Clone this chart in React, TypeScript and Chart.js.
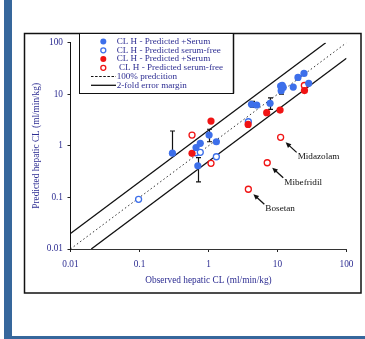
import React, { useEffect, useRef } from "react";
import { Chart, registerables } from "chart.js";

Chart.register(...registerables);

// ---------- data ----------
const xTickValues = [0.01, 0.1, 1, 10, 100];
const xTickLabels = ["0.01", "0.1", "1", "10", "100"];
const yTickValues = [0.01, 0.1, 1, 10, 100];
const yTickLabels = ["0.01", "0.1", "1", "10", "100"];

const xTitle = "Observed hepatic CL (ml/min/kg)";
const yTitle = "Predicted hepatic CL (ml/min/kg)";

// blue, predicted with serum
const blueSerumX = [0.3, 0.66, 0.76, 0.7, 1.02, 1.3, 4.2, 5.0, 7.8, 11.1, 11.7, 12.1, 11.3, 16.9, 19.8, 24.2, 28.3];
const blueSerumY = [0.72, 0.93, 1.12, 0.41, 1.62, 1.2, 6.4, 6.2, 6.7, 14.4, 14.9, 13.6, 11.7, 13.8, 21.2, 25.4, 16.3];
const blueErrLow: (number | null)[] = [null, null, null, 0.2, 1.2, null, 5.6, null, 5.1, null, null, null, 10.1, null, null, null, null];
const blueErrHigh: (number | null)[] = [1.94, null, null, 0.59, 2.1, null, 7.3, null, 8.5, null, null, null, null, null, null, null, null];

// blue, predicted serum-free
const blueFreeX = [0.097, 0.66, 0.76, 1.3, 3.78];
const blueFreeY = [0.092, 0.735, 0.75, 0.615, 2.93];

// red, predicted with serum
const redSerumX = [0.577, 1.087, 3.75, 6.97, 10.9, 24.6];
const redSerumY = [0.716, 3.02, 2.6, 4.4, 4.94, 11.8];

// red, predicted serum-free
const redFreeX = [0.577, 1.087, 24.5, 11.1, 7.1, 3.78];
const redFreeY = [1.62, 0.458, 14.8, 1.46, 0.47, 0.144];

// reference lines
const identityX = [0.01, 100];
const identityY = [0.01, 100];
const upperX = [0.01, 50];
const upperY = [0.02, 100];
const lowerX = [0.02, 100];
const lowerY = [0.01, 50];

const legendLabels = [
  "CL H - Predicted +Serum",
  "CL H - Predicted serum-free",
  "CL H - Predicted +Serum",
  " CL H - Predicted serum-free",
  "100% predcition",
  "2-fold error margin",
];

const annotationNames = ["Midazolam", "Mibefridil", "Bosetan"];
const annotationIndex = [3, 4, 5]; // indices into red serum-free series

// ---------- styles ----------
const BLUE = "#3d6fea";
const RED = "#f01414";
const NAVY = "#2d2d92";
const FRAME_BLUE = "#36679c";
const FONT = "'Liberation Serif', 'Times New Roman', serif";

const toPts = (xs: number[], ys: number[]) => xs.map((x, i) => ({ x, y: ys[i] }));

const framePlugin = {
  id: "frame",
  beforeDraw(chart: any) {
    const ctx = chart.ctx;
    ctx.save();
    ctx.fillStyle = "#ffffff";
    ctx.fillRect(0, 0, chart.width, chart.height);
    ctx.fillStyle = FRAME_BLUE;
    ctx.fillRect(4, 0, 8, 339);
    ctx.fillRect(4, 336, 361, 3);
    ctx.strokeStyle = "#111";
    ctx.lineWidth = 1.5;
    ctx.strokeRect(24.5, 33.5, 336.5, 259.5);
    ctx.restore();
  },
};

const errorBarPlugin = {
  id: "errbars",
  beforeDatasetsDraw(chart: any) {
    const ctx = chart.ctx;
    const xs = chart.scales.x;
    const ys = chart.scales.y;
    ctx.save();
    ctx.strokeStyle = "#111";
    ctx.lineWidth = 1.2;
    blueSerumX.forEach((xv, i) => {
      const lo = blueErrLow[i];
      const hi = blueErrHigh[i];
      if (lo == null && hi == null) return;
      const px = Math.round(xs.getPixelForValue(xv)) + 0.5;
      const pMid = ys.getPixelForValue(blueSerumY[i]);
      const pLo = lo != null ? ys.getPixelForValue(lo) : pMid;
      const pHi = hi != null ? ys.getPixelForValue(hi) : pMid;
      ctx.beginPath();
      ctx.moveTo(px, pLo);
      ctx.lineTo(px, pHi);
      if (lo != null) {
        ctx.moveTo(px - 2.5, pLo);
        ctx.lineTo(px + 2.5, pLo);
      }
      if (hi != null) {
        ctx.moveTo(px - 2.5, pHi);
        ctx.lineTo(px + 2.5, pHi);
      }
      ctx.stroke();
    });
    ctx.restore();
  },
};

const annotationPlugin = {
  id: "annot",
  afterDatasetsDraw(chart: any) {
    const ctx = chart.ctx;
    const xs = chart.scales.x;
    const ys = chart.scales.y;
    ctx.save();
    ctx.strokeStyle = "#111";
    ctx.fillStyle = "#111";
    ctx.lineWidth = 1.3;
    ctx.font = `9.2px ${FONT}`;
    ctx.textBaseline = "middle";
    ctx.textAlign = "left";
    annotationNames.forEach((name, k) => {
      const idx = annotationIndex[k];
      const px = xs.getPixelForValue(redFreeX[idx]);
      const py = ys.getPixelForValue(redFreeY[idx]);
      const hx = px + 5, hy = py + 5;
      const tx = px + 16, ty = py + 15;
      const ang = Math.atan2(hy - ty, hx - tx);
      ctx.beginPath();
      ctx.moveTo(tx, ty);
      ctx.lineTo(hx - Math.cos(ang) * 3, hy - Math.sin(ang) * 3);
      ctx.stroke();
      ctx.beginPath();
      ctx.moveTo(hx, hy);
      ctx.lineTo(hx - 5.5 * Math.cos(ang) + 2.5 * Math.sin(ang), hy - 5.5 * Math.sin(ang) - 2.5 * Math.cos(ang));
      ctx.lineTo(hx - 5.5 * Math.cos(ang) - 2.5 * Math.sin(ang), hy - 5.5 * Math.sin(ang) + 2.5 * Math.cos(ang));
      ctx.closePath();
      ctx.fill();
      ctx.fillText(name, px + 17, py + 19.5);
    });
    ctx.restore();
  },
};

const legendPlugin = {
  id: "customLegend",
  afterDraw(chart: any) {
    const ctx = chart.ctx;
    ctx.save();
    ctx.fillStyle = "#fff";
    ctx.fillRect(79.5, 33.5, 154, 60);
    ctx.strokeStyle = "#111";
    ctx.lineWidth = 1;
    ctx.strokeRect(79.5, 33.5, 154, 60);
    ctx.lineWidth = 1.5;
    ctx.beginPath();
    ctx.moveTo(233.5, 33.5);
    ctx.lineTo(233.5, 93.5);
    ctx.stroke();
    const rows = [41.5, 50.3, 59, 67.8, 76.5, 85.3];
    const mx = 103.3;
    const markers = [
      { c: BLUE, filled: true },
      { c: BLUE, filled: false },
      { c: RED, filled: true },
      { c: RED, filled: false },
    ];
    markers.forEach((m, i) => {
      ctx.beginPath();
      ctx.arc(mx, rows[i], m.filled ? 3 : 2.5, 0, Math.PI * 2);
      if (m.filled) {
        ctx.fillStyle = m.c;
        ctx.fill();
      } else {
        ctx.fillStyle = "#fff";
        ctx.fill();
        ctx.strokeStyle = m.c;
        ctx.lineWidth = 1.3;
        ctx.stroke();
      }
    });
    ctx.strokeStyle = "#111";
    ctx.lineWidth = 1;
    ctx.setLineDash([2.5, 1.6]);
    ctx.beginPath();
    ctx.moveTo(91, rows[4]);
    ctx.lineTo(116, rows[4]);
    ctx.stroke();
    ctx.setLineDash([]);
    ctx.lineWidth = 1.3;
    ctx.beginPath();
    ctx.moveTo(91, rows[5]);
    ctx.lineTo(116, rows[5]);
    ctx.stroke();
    ctx.fillStyle = NAVY;
    ctx.font = `9.1px ${FONT}`;
    ctx.textBaseline = "middle";
    ctx.textAlign = "left";
    legendLabels.forEach((t, i) => {
      ctx.fillText(t, 116.7, rows[i]);
    });
    ctx.restore();
  },
};

export default function App() {
  const ref = useRef<HTMLCanvasElement>(null);
  useEffect(() => {
    if (!ref.current) return;
    const font = { family: FONT, size: 9.3 };
    const chart = new Chart(ref.current, {
      type: "scatter",
      data: {
        datasets: [
          {
            label: legendLabels[0],
            data: toPts(blueSerumX, blueSerumY),
            pointRadius: 3.6,
            pointBackgroundColor: BLUE,
            pointBorderColor: BLUE,
            pointBorderWidth: 0,
            order: 1,
          },
          {
            label: legendLabels[1],
            data: toPts(blueFreeX, blueFreeY),
            pointRadius: 3,
            pointBackgroundColor: "#ffffff",
            pointBorderColor: BLUE,
            pointBorderWidth: 1.3,
            order: 2,
          },
          {
            label: legendLabels[2],
            data: toPts(redSerumX, redSerumY),
            pointRadius: 3.6,
            pointBackgroundColor: RED,
            pointBorderColor: RED,
            pointBorderWidth: 0,
            order: 1,
          },
          {
            label: legendLabels[3],
            data: toPts(redFreeX, redFreeY),
            pointRadius: 3,
            pointBackgroundColor: "#ffffff",
            pointBorderColor: RED,
            pointBorderWidth: 1.3,
            order: 2,
          },
          {
            label: legendLabels[4],
            data: toPts(identityX, identityY),
            showLine: true,
            pointRadius: 0,
            borderColor: "#333",
            borderWidth: 1,
            borderDash: [1.5, 2.5],
            order: 10,
          },
          {
            label: legendLabels[5],
            data: toPts(upperX, upperY),
            showLine: true,
            pointRadius: 0,
            borderColor: "#111",
            borderWidth: 1.3,
            order: 10,
          },
          {
            label: legendLabels[5],
            data: toPts(lowerX, lowerY),
            showLine: true,
            pointRadius: 0,
            borderColor: "#111",
            borderWidth: 1.3,
            order: 10,
          },
        ],
      },
      options: {
        responsive: false,
        animation: false,
        devicePixelRatio: 1,
        events: [],
        layout: { padding: { left: 0, top: 42.7, right: 18.5, bottom: 0 } },
        plugins: { legend: { display: false }, tooltip: { enabled: false } },
        scales: {
          x: {
            type: "logarithmic",
            min: 0.01,
            max: 100,
            afterBuildTicks: (s: any) => {
              s.ticks = xTickValues.map((v) => ({ value: v }));
            },
            afterFit: (s: any) => {
              s.height = 90;
            },
            ticks: {
              callback: (_v: any, i: number) => xTickLabels[i],
              color: NAVY,
              font,
              padding: 7,
              maxRotation: 0,
              autoSkip: false,
            },
            grid: { drawOnChartArea: false, tickLength: 3, color: "#222" },
            border: { color: "#333", width: 1 },
            title: {
              display: true,
              text: xTitle,
              color: NAVY,
              font,
              padding: { top: 0, bottom: 52.6 },
            },
          },
          y: {
            type: "logarithmic",
            min: 0.01,
            max: 100,
            afterBuildTicks: (s: any) => {
              s.ticks = yTickValues.map((v) => ({ value: v }));
            },
            afterFit: (s: any) => {
              s.width = 70.5;
            },
            ticks: {
              callback: (_v: any, i: number) => yTickLabels[i],
              color: NAVY,
              font,
              padding: 4.5,
              autoSkip: false,
            },
            grid: { drawOnChartArea: false, tickLength: 3, color: "#222" },
            border: { color: "#111", width: 1 },
            title: {
              display: true,
              text: yTitle,
              color: NAVY,
              font,
              padding: { top: 31.3, bottom: 0 },
            },
          },
        },
      },
      plugins: [framePlugin, errorBarPlugin, annotationPlugin, legendPlugin],
    } as any);
    return () => chart.destroy();
  }, []);
  return (
    <div style={{ position: "absolute", left: 0, top: 0, width: 365, height: 339 }}>
      <canvas ref={ref} width={365} height={339} style={{ display: "block", width: 365, height: 339 }} />
    </div>
  );
}
